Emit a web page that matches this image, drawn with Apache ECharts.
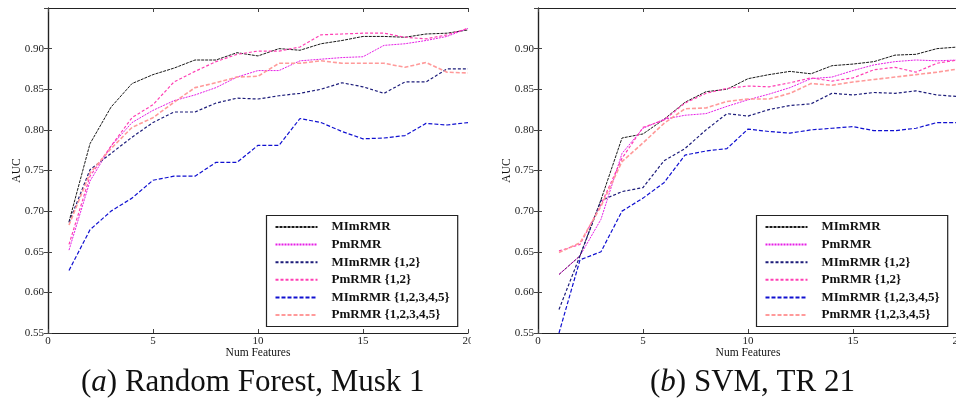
<!DOCTYPE html>
<html><head><meta charset="utf-8">
<script src="https://cdn.jsdelivr.net/npm/echarts@6/dist/echarts.min.js"></script>
<style>html,body{margin:0;padding:0;background:#fff}#c{width:956px;height:402px}</style>
</head><body><div id="c"></div>
<script>
const features = [1,2,3,4,5,6,7,8,9,10,11,12,13,14,15,16,17,18,19,20];
const seriesNames = ['MImRMR','PmRMR','MImRMR {1,2}','PmRMR {1,2}','MImRMR {1,2,3,4,5}','PmRMR {1,2,3,4,5}'];
const xTicks = [0,5,10,15,20];
const yTicks = [0.55,0.60,0.65,0.70,0.75,0.80,0.85,0.90,0.95];
const captions = ['Random Forest, Musk 1','SVM, TR 21'];
const captionLetters = ['a','b'];

// (a) Random Forest, Musk 1
const rfMImRMR = [0.687,0.783,0.828,0.857,0.868,0.876,0.886,0.886,0.895,0.891,0.900,0.898,0.906,0.910,0.915,0.915,0.914,0.918,0.919,0.923];
const rfPmRMR = [0.652,0.737,0.780,0.809,0.824,0.836,0.843,0.852,0.865,0.873,0.873,0.885,0.887,0.889,0.890,0.904,0.906,0.910,0.915,0.925];
const rfMIm12 = [0.686,0.751,0.771,0.791,0.809,0.822,0.822,0.833,0.839,0.838,0.842,0.845,0.850,0.858,0.853,0.845,0.859,0.859,0.875,0.875];
const rfPm12 = [0.659,0.743,0.780,0.815,0.831,0.859,0.872,0.884,0.893,0.897,0.897,0.902,0.917,0.918,0.919,0.919,0.914,0.912,0.917,0.925];
const rfMIm12345 = [0.627,0.677,0.700,0.716,0.738,0.743,0.743,0.760,0.760,0.781,0.781,0.814,0.809,0.798,0.789,0.790,0.793,0.808,0.806,0.809];
const rfPm12345 = [0.683,0.747,0.777,0.803,0.815,0.834,0.852,0.858,0.865,0.866,0.882,0.882,0.885,0.882,0.882,0.882,0.877,0.883,0.871,0.870];

// (b) SVM, TR 21
const svmMImRMR = [0.622,0.645,0.714,0.790,0.795,0.813,0.834,0.847,0.850,0.863,0.868,0.872,0.869,0.879,0.881,0.884,0.892,0.893,0.900,0.902];
const svmPmRMR = [0.622,0.645,0.690,0.771,0.802,0.813,0.818,0.820,0.829,0.837,0.844,0.852,0.863,0.865,0.873,0.880,0.884,0.886,0.885,0.886];
const svmMIm12 = [0.579,0.645,0.713,0.724,0.729,0.762,0.777,0.800,0.820,0.817,0.825,0.830,0.832,0.845,0.843,0.846,0.845,0.848,0.843,0.841];
const svmPm12 = [0.651,0.659,0.708,0.765,0.803,0.812,0.833,0.845,0.851,0.854,0.853,0.858,0.864,0.860,0.864,0.874,0.877,0.871,0.882,0.886];
const svmMIm12345 = [0.550,0.640,0.650,0.700,0.716,0.735,0.769,0.774,0.777,0.801,0.798,0.796,0.800,0.802,0.804,0.799,0.799,0.802,0.809,0.809];
const svmPm12345 = [0.649,0.661,0.706,0.761,0.784,0.808,0.826,0.827,0.835,0.838,0.838,0.845,0.857,0.855,0.859,0.862,0.865,0.868,0.871,0.875];

const panels = [
  [rfMImRMR, rfPmRMR, rfMIm12, rfPm12, rfMIm12345, rfPm12345],
  [svmMImRMR, svmPmRMR, svmMIm12, svmPm12, svmMIm12345, svmPm12345]
];

const styles = [
  {color:'#1a1a1a', type:[3,1], width:1},
  {color:'#e61ee6', type:[2,1], width:1},
  {color:'#1c1c7a', type:[3,2], width:1.2},
  {color:'#ff3fb4', type:[3,2], width:1.2},
  {color:'#1010d0', type:[4,2], width:1.2},
  {color:'#ff9a9a', type:[4,2], width:1.6}
];

const SERIF = '"Liberation Serif", "DejaVu Serif", serif';
const gridLefts = [48, 538];
const gridTop = 8, gridW = 420, gridH = 325;

const grids = [], xAxes = [], yAxes = [], series = [], legends = [], titles = [];
const axisLine = {show:true, lineStyle:{color:'#222', width:1.2}};
const tick = {show:true, inside:true, length:4, lineStyle:{color:'#444'}};

panels.forEach((vals, p) => {
  grids.push({left:gridLefts[p], top:gridTop, width:gridW, height:gridH, containLabel:false, outerBoundsMode:'none'});
  xAxes.push({gridIndex:p, type:'value', position:'bottom', min:xTicks[0], max:xTicks[xTicks.length-1], interval:5,
    axisLine, axisTick:tick, splitLine:{show:false},
    axisLabel:{color:'#222', fontFamily:SERIF, fontSize:11, margin:3},
    name:'Num Features', nameLocation:'middle', nameGap:14, nameMoveOverlap:false,
    nameTextStyle:{color:'#111', fontFamily:SERIF, fontSize:11.5}});
  xAxes.push({gridIndex:p, type:'value', position:'top', min:xTicks[0], max:xTicks[xTicks.length-1], interval:5,
    axisLine, axisTick:tick, splitLine:{show:false}, axisLabel:{show:false}});
  yAxes.push({gridIndex:p, type:'value', position:'left', min:yTicks[0], max:yTicks[yTicks.length-1], interval:0.05,
    axisLine, axisTick:tick, splitLine:{show:false},
    axisLabel:{color:'#222', fontFamily:SERIF, fontSize:11, margin:4, showMaxLabel:false,
      formatter:v => Number(v).toFixed(2)},
    name:'AUC', nameLocation:'middle', nameGap:25, nameMoveOverlap:false,
    nameTextStyle:{color:'#111', fontFamily:SERIF, fontSize:11.5}});
  yAxes.push({gridIndex:p, type:'value', position:'right', min:yTicks[0], max:yTicks[yTicks.length-1], interval:0.05,
    axisLine, axisTick:tick, splitLine:{show:false}, axisLabel:{show:false}});
  vals.forEach((arr, i) => {
    series.push({
      type:'line', name:seriesNames[i], xAxisIndex:p*2, yAxisIndex:p*2,
      data: features.map((f, k) => [f, arr[k]]),
      symbol:'none', silent:true, animation:false, clip:true,
      lineStyle:{color:styles[i].color, type:styles[i].type, width:styles[i].width},
      itemStyle:{color:styles[i].color}
    });
  });
  const legLeft = [266.5, 756.5][p];
  legends.push({
    orient:'vertical', left:legLeft, top:215.5, width:180,
    data:seriesNames, selectedMode:false,
    backgroundColor:'#fff', borderColor:'#222', borderWidth:1.2,
    padding:[4.5, 8, 4.5, 8], itemWidth:42, itemHeight:14, itemGap:3.6,
    itemStyle:{opacity:0},
    textStyle:{fontFamily:SERIF, fontSize:13, fontWeight:'bold', color:'#111', padding:[0,0,0,9], lineHeight:14}
  });
  titles.push({
    text:'{n|(}{i|' + captionLetters[p] + '}{n|) ' + captions[p] + '}',
    left:[76, 645][p], top:362,
    textStyle:{fontWeight:'normal', rich:{
      n:{fontFamily:SERIF, fontSize:31, fontWeight:'normal', color:'#111'},
      i:{fontFamily:SERIF, fontSize:31, fontWeight:'normal', fontStyle:'italic', color:'#111'}
    }}
  });
});

const chart = echarts.init(document.getElementById('c'), null, {renderer:'canvas'});
chart.setOption({
  animation:false,
  backgroundColor:'#fff',
  title:titles,
  grid:grids, xAxis:xAxes, yAxis:yAxes, legend:legends, series:series,
  graphic:[{type:'rect', left:471, top:335, shape:{width:9, height:14}, style:{fill:'#fff'}, z:100}]
});
</script>
</body></html>
